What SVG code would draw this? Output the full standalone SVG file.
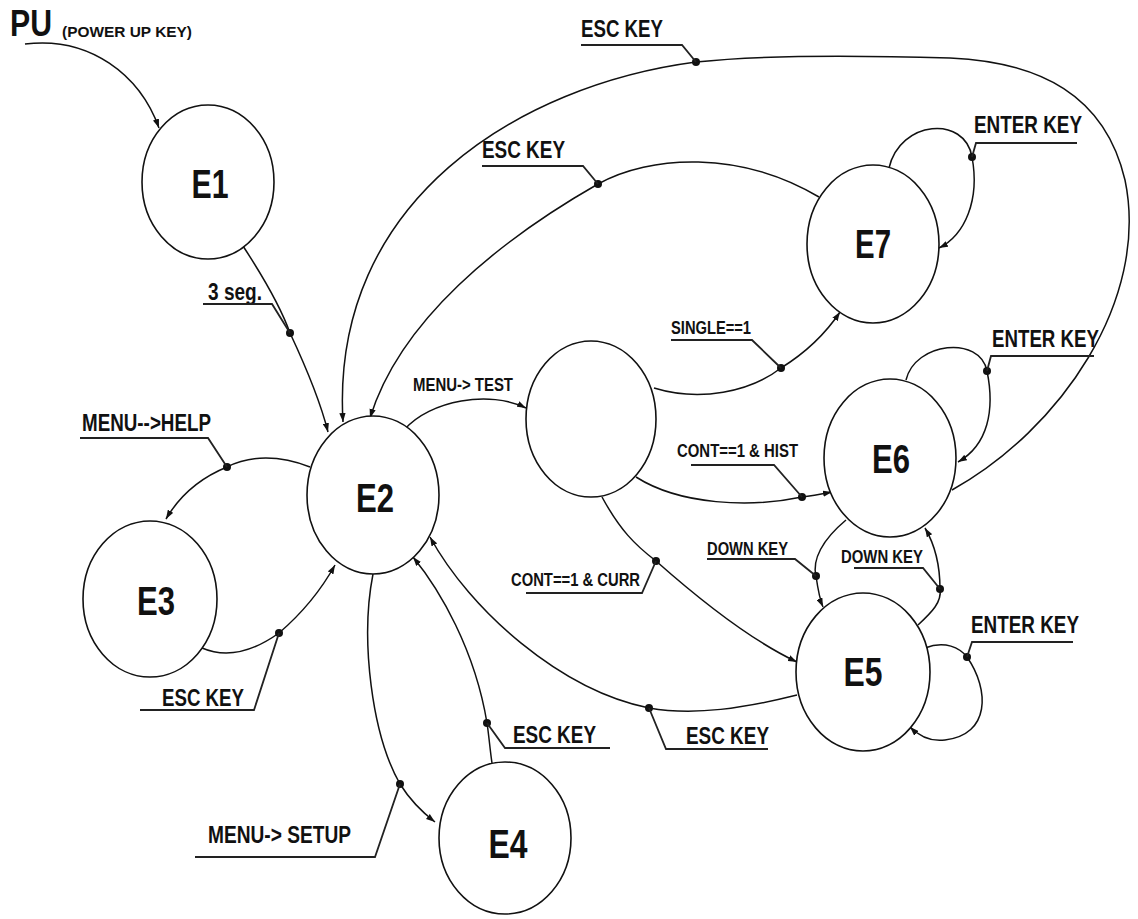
<svg xmlns="http://www.w3.org/2000/svg" width="1138" height="919" viewBox="0 0 1138 919">
<style>
.node{fill:#fff;stroke:#111;stroke-width:1.6}
.nl{font-family:"Liberation Sans",Arial,sans-serif;font-weight:bold;font-size:40px;fill:#111;text-anchor:middle}
.c{fill:none;stroke:#111;stroke-width:1.5}
.dot{fill:#111}
.lb{font-family:"Liberation Sans",Arial,sans-serif;font-weight:bold;font-size:23px;fill:#111}
.ls{font-family:"Liberation Sans",Arial,sans-serif;font-weight:bold;font-size:18px;fill:#111}
.ul{fill:none;stroke:#222;stroke-width:1.8}
</style>
<defs>
<marker id="ah" viewBox="0 0 10 7" refX="10" refY="3.5" markerWidth="9" markerHeight="6.5" markerUnits="userSpaceOnUse" orient="auto">
<path d="M0,0 L10,3.5 L0,7 z" fill="#111"/>
</marker>
</defs>
<rect width="1138" height="919" fill="#fff"/>

<g id="title">
<text x="10" y="36" font-family="Liberation Sans,Arial,sans-serif" font-weight="bold" font-size="36" fill="#111" textLength="42" lengthAdjust="spacingAndGlyphs">PU</text>
<text x="62" y="37" font-family="Liberation Sans,Arial,sans-serif" font-weight="bold" font-size="15" fill="#111" textLength="130" lengthAdjust="spacingAndGlyphs">(POWER UP KEY)</text>
</g>

<g id="connectors">
<path class="c" marker-end="url(#ah)" d="M25,44 C90,36 140,75 159,128"/>
<path class="c" marker-end="url(#ah)" d="M243,246 C262,275 280,305 290,333 C305,365 320,400 328,432"/>
<path class="c" marker-end="url(#ah)" d="M310,467 C280,455 250,455 227,467 C200,478 180,495 166,519"/>
<path class="c" marker-end="url(#ah)" d="M202,648 C230,660 258,648 279,633 C300,615 320,592 335,565"/>
<path class="c" marker-end="url(#ah)" d="M373,574 C360,640 372,735 400,784 C410,800 422,812 435,822"/>
<path class="c" marker-end="url(#ah)" d="M492,763 C490,750 489,736 487,723 C475,650 440,590 413,557"/>
<path class="c" marker-end="url(#ah)" d="M797,695 C745,708 695,716 649,708 C560,690 470,610 430,537"/>
<path class="c" marker-end="url(#ah)" d="M404,430 C430,400 490,390 526,408"/>
<path class="c" marker-end="url(#ah)" d="M654,388 C700,402 750,392 781,368 C810,350 828,330 840,312"/>
<path class="c" marker-end="url(#ah)" d="M636,477 C680,505 750,508 802,497 C812,496 822,494 832,492"/>
<path class="c" marker-end="url(#ah)" d="M602,497 C620,530 635,545 656,561 C700,600 750,640 797,662"/>
<path class="c" marker-end="url(#ah)" d="M819,197 C740,150 650,155 598,184 C500,240 400,320 370,418"/>
<path class="c" marker-end="url(#ah)" d="M952,490 C1060,430 1150,300 1125,180 C1105,95 1040,62 950,58 C850,55 760,55 696,62 C520,85 330,200 343,422"/>
<path class="c" marker-end="url(#ah)" d="M889,168 C900,120 965,115 972,157 C980,200 965,235 939,248"/>
<path class="c" marker-end="url(#ah)" d="M906,380 C915,342 980,335 987,371 C995,410 988,445 958,462"/>
<path class="c" marker-end="url(#ah)" d="M925,648 C945,640 960,648 967,657 C990,690 990,735 945,740 C930,742 918,735 910,727"/>
<path class="c" marker-end="url(#ah)" d="M846,520 C822,540 812,560 816,576 C818,590 820,600 823,607"/>
<path class="c" marker-end="url(#ah)" d="M918,625 C932,612 942,602 940,589 C940,565 935,545 925,528"/>
<g class="dot">
<circle cx="290" cy="333" r="4"/>
<circle cx="227" cy="467" r="4"/>
<circle cx="279" cy="633" r="4"/>
<circle cx="400" cy="784" r="4"/>
<circle cx="487" cy="723" r="4"/>
<circle cx="649" cy="708" r="4"/>
<circle cx="781" cy="368" r="4"/>
<circle cx="802" cy="497" r="4"/>
<circle cx="656" cy="561" r="4"/>
<circle cx="598" cy="184" r="4"/>
<circle cx="696" cy="62" r="4"/>
<circle cx="972" cy="157" r="4"/>
<circle cx="987" cy="371" r="4"/>
<circle cx="967" cy="657" r="4"/>
<circle cx="816" cy="576" r="4"/>
<circle cx="940" cy="589" r="4"/>
</g>
</g>

<g id="labels">
<text class="lb" x="581" y="37" textLength="82" lengthAdjust="spacingAndGlyphs">ESC KEY</text>
<polyline class="ul" points="581,45 682,45 696,62"/>
<text class="lb" x="482" y="158" textLength="83" lengthAdjust="spacingAndGlyphs">ESC KEY</text>
<polyline class="ul" points="482,166 583,166 598,184"/>
<text class="lb" x="974" y="133" textLength="108" lengthAdjust="spacingAndGlyphs">ENTER KEY</text>
<polyline class="ul" points="1077,143 976,143 972,157"/>
<text class="lb" x="208" y="300" textLength="54" lengthAdjust="spacingAndGlyphs">3 seg.</text>
<polyline class="ul" points="203,304 272,304 290,333"/>
<text class="lb" x="82" y="431" textLength="129" lengthAdjust="spacingAndGlyphs">MENU--&gt;HELP</text>
<polyline class="ul" points="80,438 208,438 227,467"/>
<text class="lb" x="162" y="706" textLength="82" lengthAdjust="spacingAndGlyphs">ESC KEY</text>
<polyline class="ul" points="140,710 254,710 279,633"/>
<text class="lb" x="208" y="843" textLength="143" lengthAdjust="spacingAndGlyphs">MENU-&gt; SETUP</text>
<polyline class="ul" points="195,857 375,857 400,784"/>
<text class="lb" x="513" y="743" textLength="83" lengthAdjust="spacingAndGlyphs">ESC KEY</text>
<polyline class="ul" points="610,748 505,748 487,723"/>
<text class="lb" x="686" y="744" textLength="83" lengthAdjust="spacingAndGlyphs">ESC KEY</text>
<polyline class="ul" points="768,749 666,749 649,708"/>
<text class="lb" x="992" y="347" textLength="107" lengthAdjust="spacingAndGlyphs">ENTER KEY</text>
<polyline class="ul" points="1094,356 991,356 987,371"/>
<text class="lb" x="971" y="633" textLength="108" lengthAdjust="spacingAndGlyphs">ENTER KEY</text>
<polyline class="ul" points="1073,642 972,642 967,657"/>
<text class="ls" x="413" y="391" textLength="100" lengthAdjust="spacingAndGlyphs">MENU-&gt; TEST</text>
<text class="ls" x="671" y="334" textLength="80" lengthAdjust="spacingAndGlyphs">SINGLE==1</text>
<polyline class="ul" points="671,340 752,340 781,368"/>
<text class="ls" x="677" y="457" textLength="121" lengthAdjust="spacingAndGlyphs">CONT==1 &amp; HIST</text>
<polyline class="ul" points="691,465 774,465 802,497"/>
<text class="ls" x="511" y="586" textLength="129" lengthAdjust="spacingAndGlyphs">CONT==1 &amp; CURR</text>
<polyline class="ul" points="526,593 642,593 656,561"/>
<text class="ls" x="707" y="555" textLength="81" lengthAdjust="spacingAndGlyphs">DOWN KEY</text>
<polyline class="ul" points="707,559 795,559 816,576"/>
<text class="ls" x="841" y="563" textLength="82" lengthAdjust="spacingAndGlyphs">DOWN KEY</text>
<polyline class="ul" points="854,568 923,568 940,589"/>
</g>

<g id="E1"><ellipse class="node" cx="208" cy="182" rx="66" ry="77"/><text class="nl" x="210" y="198" textLength="37" lengthAdjust="spacingAndGlyphs">E1</text></g>
<g id="E2"><ellipse class="node" cx="373" cy="495" rx="66" ry="79"/><text class="nl" x="375" y="512" textLength="38" lengthAdjust="spacingAndGlyphs">E2</text></g>
<g id="E3"><ellipse class="node" cx="150" cy="599" rx="67" ry="78"/><text class="nl" x="156" y="615" textLength="38" lengthAdjust="spacingAndGlyphs">E3</text></g>
<g id="E4"><ellipse class="node" cx="505" cy="838" rx="66" ry="76"/><text class="nl" x="508" y="858" textLength="39" lengthAdjust="spacingAndGlyphs">E4</text></g>
<g id="TEST"><ellipse class="node" cx="591" cy="419" rx="65" ry="78"/></g>
<g id="E5"><ellipse class="node" cx="863" cy="672" rx="67" ry="79"/><text class="nl" x="863" y="686" textLength="39" lengthAdjust="spacingAndGlyphs">E5</text></g>
<g id="E6"><ellipse class="node" cx="890" cy="458" rx="66" ry="79"/><text class="nl" x="891" y="473" textLength="38" lengthAdjust="spacingAndGlyphs">E6</text></g>
<g id="E7"><ellipse class="node" cx="873" cy="244" rx="66" ry="79"/><text class="nl" x="873" y="258" textLength="36" lengthAdjust="spacingAndGlyphs">E7</text></g>
</svg>
